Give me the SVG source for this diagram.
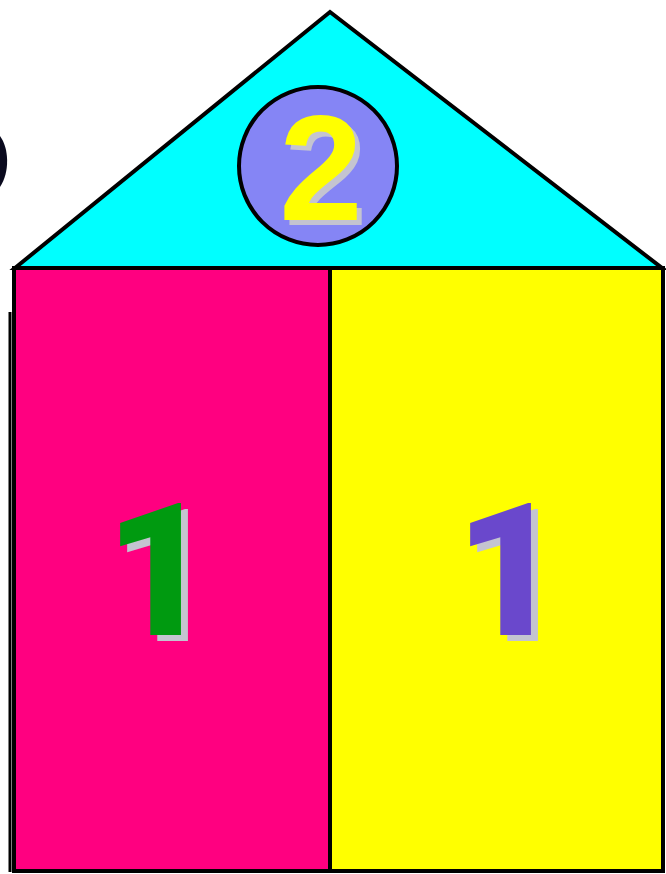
<svg xmlns="http://www.w3.org/2000/svg" width="666" height="874" viewBox="0 0 666 874">
<style>
.num{font-family:"Liberation Sans",Arial,sans-serif;font-weight:bold;text-anchor:middle}
.one{font-family:Roboto,"Noto Sans",sans-serif;font-weight:900;text-anchor:middle}
.sh{fill:#c4c4d0}
.edge{stroke:#000;stroke-width:4;stroke-linejoin:miter}
</style>
<rect width="666" height="874" fill="#fff"/>
<path d="M0,136 C9,148 10,172 0,187 Z" fill="#0a0a1e"/>
<g id="roof">
<polygon class="edge" points="15,268 330,12 662,268" fill="#00ffff"/>
</g>
<line x1="10" y1="312" x2="10" y2="872" stroke="#000" stroke-width="3"/>
<g id="left">
<rect class="edge" x="14" y="268" width="316" height="603" fill="#ff0080"/>
<text class="one sh" x="166" y="641" font-size="186">1</text>
<text class="one" x="159" y="635" font-size="186" fill="#009a10">1</text>
</g>
<g id="right">
<rect class="edge" x="330" y="268" width="333" height="603" fill="#ffff00"/>
<text class="one sh" x="516" y="641" font-size="186">1</text>
<text class="one" x="509" y="635" font-size="186" fill="#6a48cc">1</text>
</g>
<g id="circle">
<circle cx="318" cy="166" r="79" fill="#8585f5" stroke="#000" stroke-width="4"/>
<text class="num sh" x="326" y="225" font-size="150">2</text>
<text class="num" x="321" y="220" font-size="150" fill="#ffff00">2</text>
</g>
</svg>
